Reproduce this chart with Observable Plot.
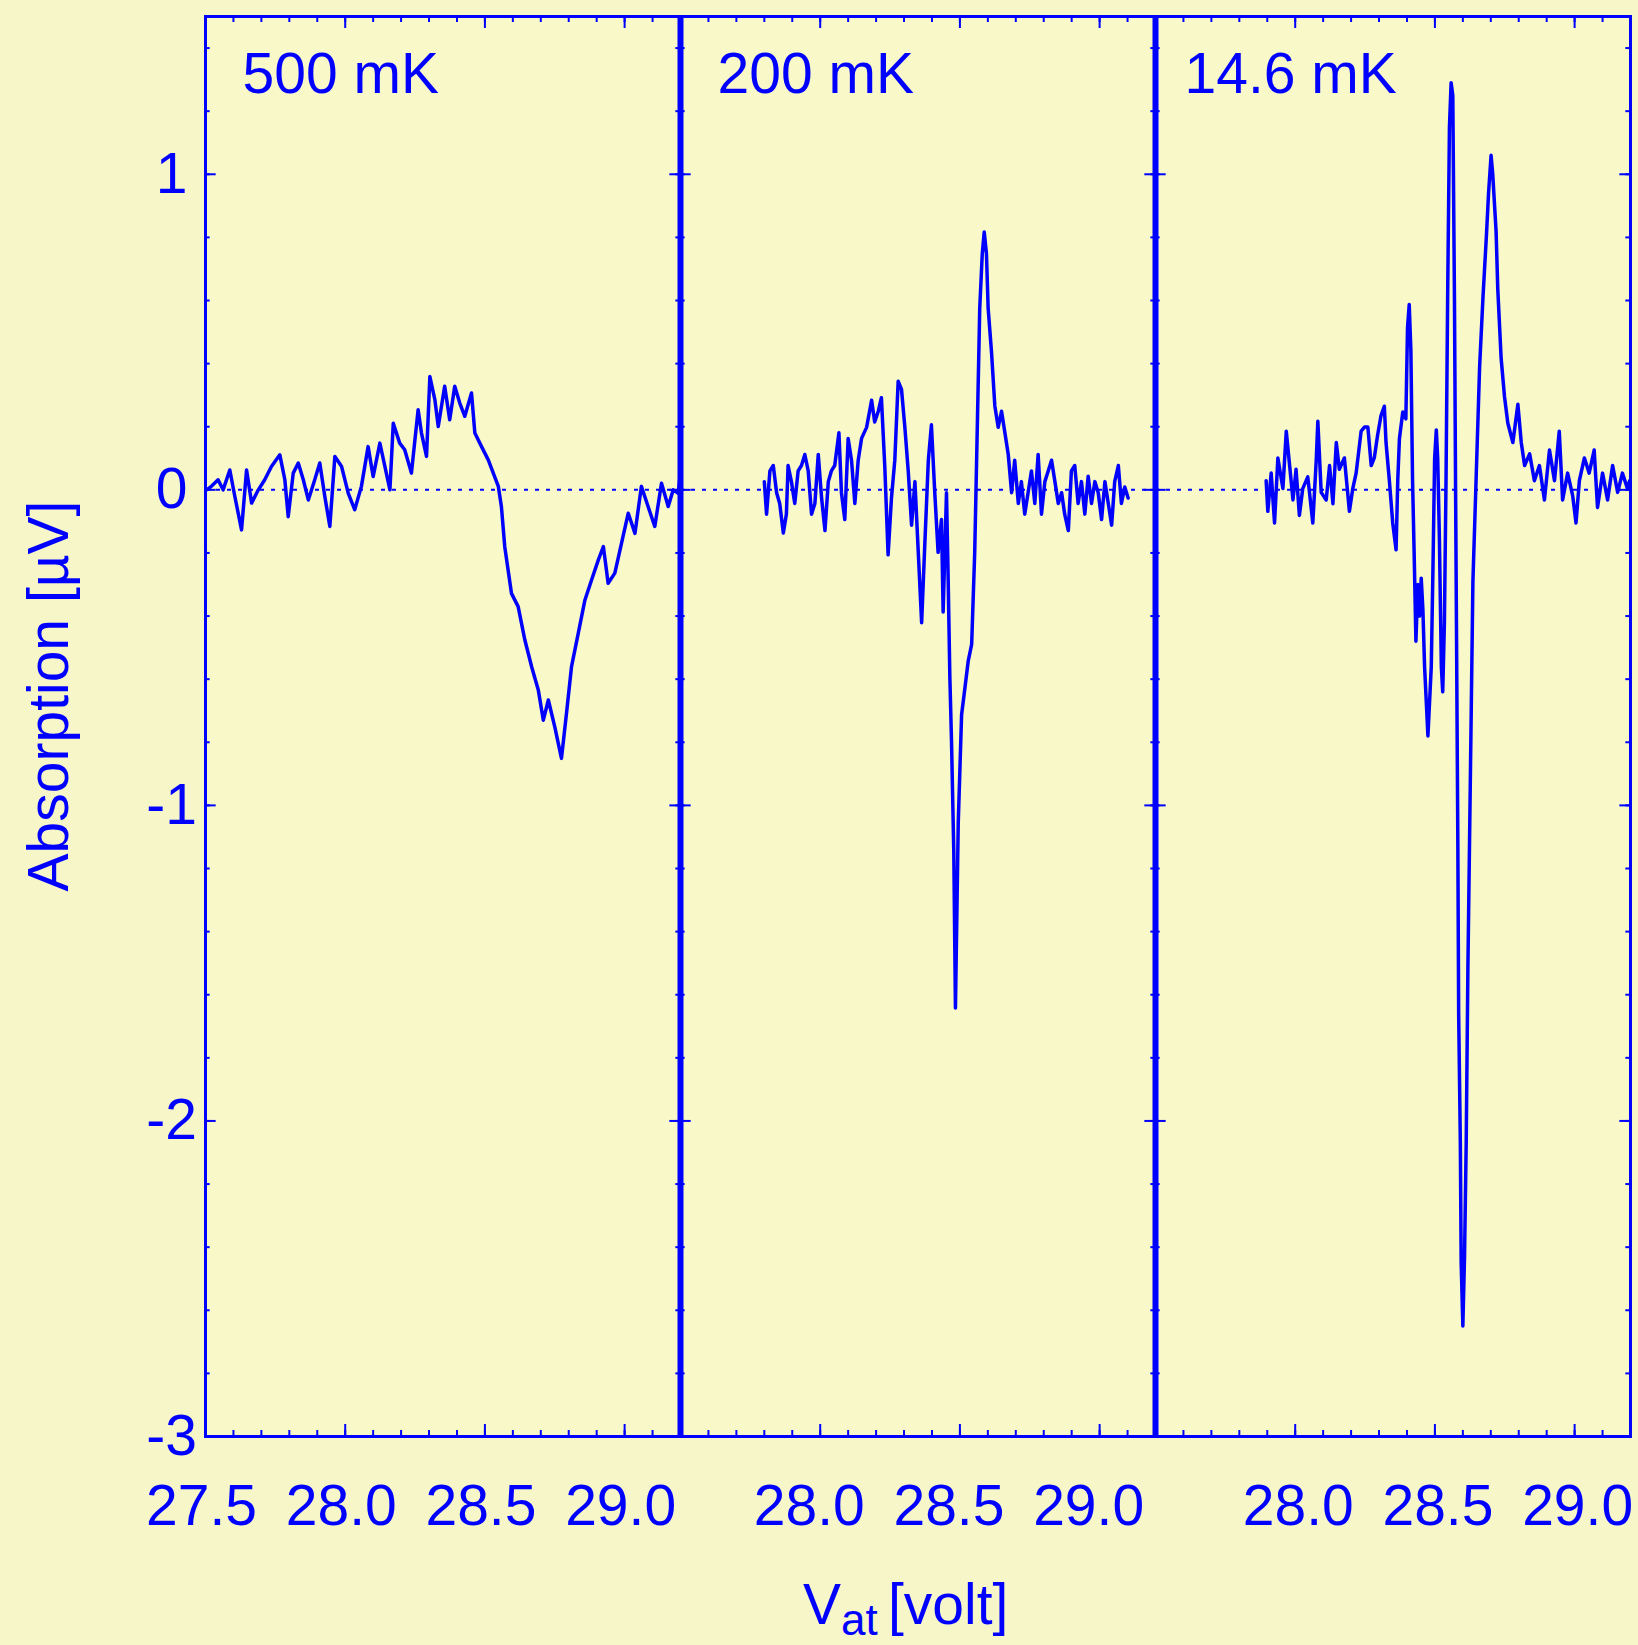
<!DOCTYPE html>
<html>
<head>
<meta charset="utf-8">
<script src="https://cdn.jsdelivr.net/npm/d3@7"></script>
<script src="https://cdn.jsdelivr.net/npm/@observablehq/plot@0.6"></script>
<style>
  html, body { margin: 0; padding: 0; background: #F7F6C8; }
</style>
</head>
<body>
<div id="chart"></div>
<script>
// ---- data ----
const panels = ["500 mK", "200 mK", "14.6 mK"];
const xDomain = [27.5, 29.2];
const yDomain = [-3, 1.5];
const xMajorTicks = [27.5, 28.0, 28.5, 29.0];
const yMajorTicks = [1, 0, -1, -2, -3];
const xTickLabels = [
  ["500 mK", 27.5, "27.5"], ["500 mK", 28.0, "28.0"], ["500 mK", 28.5, "28.5"], ["500 mK", 29.0, "29.0"],
  ["200 mK", 28.0, "28.0"], ["200 mK", 28.5, "28.5"], ["200 mK", 29.0, "29.0"],
  ["14.6 mK", 28.0, "28.0"], ["14.6 mK", 28.5, "28.5"], ["14.6 mK", 29.0, "29.0"]
];
const yTickLabels = ["1", "0", "-1", "-2", "-3"];

const trace500 = [
  [27.504,0.000],[27.521,0.011],[27.545,0.032],[27.563,0.000],[27.587,0.063],[27.605,-0.021],
  [27.629,-0.127],[27.647,0.063],[27.665,-0.042],[27.689,0.000],[27.712,0.032],[27.736,0.074],
  [27.766,0.111],[27.784,0.032],[27.796,-0.085],[27.814,0.053],[27.832,0.085],[27.850,0.032],
  [27.868,-0.032],[27.891,0.032],[27.909,0.085],[27.927,-0.021],[27.945,-0.116],[27.963,0.106],
  [27.987,0.074],[28.011,-0.011],[28.034,-0.063],[28.058,0.011],[28.082,0.137],[28.100,0.042],
  [28.124,0.148],[28.142,0.074],[28.160,0.000],[28.172,0.211],[28.195,0.148],[28.213,0.127],
  [28.237,0.053],[28.261,0.254],[28.273,0.180],[28.291,0.106],[28.303,0.359],[28.321,0.285],
  [28.333,0.201],[28.356,0.328],[28.374,0.222],[28.392,0.328],[28.410,0.275],[28.428,0.233],
  [28.452,0.307],[28.464,0.180],[28.488,0.137],[28.512,0.095],[28.530,0.053],[28.548,0.011],
  [28.559,-0.053],[28.571,-0.180],[28.595,-0.328],[28.619,-0.370],[28.643,-0.476],[28.667,-0.560],
  [28.691,-0.634],[28.709,-0.730],[28.727,-0.666],[28.750,-0.751],[28.774,-0.851],[28.792,-0.708],
  [28.810,-0.560],[28.834,-0.455],[28.858,-0.349],[28.882,-0.285],[28.906,-0.222],[28.924,-0.180],
  [28.941,-0.296],[28.965,-0.264],[28.989,-0.169],[29.013,-0.074],[29.037,-0.138],[29.060,0.011],
  [29.084,-0.053],[29.108,-0.116],[29.132,0.021],[29.156,-0.053],[29.174,0.000],[29.192,-0.011],
  [29.200,0.060]
];

const trace200 = [
  [27.800,0.026],[27.808,-0.077],[27.820,0.060],[27.832,0.077],[27.844,-0.009],[27.855,-0.043],
  [27.868,-0.137],[27.879,-0.077],[27.885,0.077],[27.897,0.026],[27.909,-0.043],[27.921,0.060],
  [27.933,0.077],[27.945,0.112],[27.957,0.060],[27.969,-0.077],[27.981,-0.043],[27.993,0.112],
  [28.005,-0.026],[28.017,-0.129],[28.029,0.026],[28.040,0.060],[28.052,0.077],[28.067,0.181],
  [28.076,-0.009],[28.088,-0.094],[28.100,0.163],[28.112,0.094],[28.124,-0.043],[28.136,0.094],
  [28.148,0.163],[28.166,0.198],[28.184,0.284],[28.195,0.215],[28.208,0.249],[28.219,0.292],
  [28.231,0.077],[28.243,-0.206],[28.255,-0.026],[28.267,0.094],[28.279,0.344],[28.291,0.318],
  [28.303,0.198],[28.315,0.060],[28.327,-0.112],[28.339,0.026],[28.351,-0.198],[28.363,-0.421],
  [28.374,-0.180],[28.387,0.094],[28.398,0.206],[28.410,-0.009],[28.422,-0.198],[28.434,-0.094],
  [28.440,-0.387],[28.452,-0.009],[28.458,-0.284],[28.464,-0.593],[28.470,-0.799],[28.478,-1.143],
  [28.484,-1.642],[28.494,-1.057],[28.506,-0.713],[28.518,-0.627],[28.530,-0.541],[28.542,-0.490],
  [28.553,-0.198],[28.563,0.232],[28.571,0.576],[28.580,0.748],[28.587,0.817],[28.595,0.748],
  [28.601,0.576],[28.613,0.438],[28.625,0.266],[28.637,0.198],[28.649,0.249],[28.661,0.181],
  [28.673,0.112],[28.685,-0.009],[28.696,0.094],[28.709,-0.043],[28.720,0.026],[28.732,-0.077],
  [28.744,-0.009],[28.756,0.060],[28.768,-0.043],[28.780,0.112],[28.792,-0.077],[28.804,0.026],
  [28.816,0.060],[28.828,0.094],[28.840,0.026],[28.852,-0.043],[28.864,-0.009],[28.875,-0.077],
  [28.888,-0.129],[28.899,0.060],[28.911,0.077],[28.923,-0.043],[28.935,0.026],[28.947,-0.077],
  [28.959,0.043],[28.971,-0.043],[28.983,0.026],[28.995,-0.009],[29.007,-0.094],[29.019,0.026],
  [29.031,-0.043],[29.043,-0.112],[29.054,0.026],[29.067,0.077],[29.078,-0.043],[29.090,0.009],
  [29.102,-0.026]
];

const trace146 = [
  [27.896,0.029],[27.902,-0.068],[27.914,0.053],[27.926,-0.105],[27.938,0.101],[27.956,0.004],
  [27.968,0.186],[27.980,0.077],[27.992,-0.032],[28.003,0.065],[28.015,-0.081],[28.027,0.004],
  [28.045,0.041],[28.063,-0.105],[28.075,0.089],[28.081,0.217],[28.093,-0.008],[28.111,-0.032],
  [28.123,0.077],[28.135,-0.044],[28.147,0.150],[28.158,0.065],[28.176,0.101],[28.194,-0.068],
  [28.206,0.004],[28.218,0.053],[28.236,0.186],[28.248,0.199],[28.260,0.199],[28.272,0.077],
  [28.283,0.101],[28.295,0.174],[28.307,0.235],[28.319,0.265],[28.325,0.150],[28.337,0.029],
  [28.349,-0.105],[28.361,-0.190],[28.367,0.029],[28.373,0.162],[28.385,0.247],[28.396,0.225],
  [28.402,0.514],[28.408,0.587],[28.414,0.441],[28.420,0.029],[28.426,-0.214],[28.432,-0.480],
  [28.439,-0.300],[28.445,-0.400],[28.451,-0.280],[28.457,-0.380],[28.463,-0.560],[28.475,-0.780],
  [28.487,-0.560],[28.493,-0.250],[28.499,0.100],[28.505,0.190],[28.510,0.100],[28.516,-0.150],
  [28.523,-0.560],[28.528,-0.640],[28.534,-0.420],[28.540,0.050],[28.546,0.650],[28.552,1.150],
  [28.558,1.290],[28.564,1.250],[28.570,0.600],[28.574,0.000],[28.578,-0.550],[28.582,-1.110],
  [28.585,-1.660],[28.591,-2.070],[28.594,-2.450],[28.600,-2.650],[28.606,-2.430],[28.612,-2.070],
  [28.618,-1.520],[28.624,-1.110],[28.630,-0.700],[28.636,-0.290],[28.648,0.050],[28.660,0.390],
  [28.672,0.610],[28.684,0.800],[28.692,0.940],[28.701,1.060],[28.707,1.000],[28.719,0.818],
  [28.725,0.636],[28.737,0.417],[28.749,0.296],[28.761,0.211],[28.779,0.150],[28.797,0.271],
  [28.809,0.150],[28.821,0.077],[28.839,0.114],[28.856,0.029],[28.874,0.077],[28.892,-0.032],
  [28.910,0.126],[28.928,0.029],[28.945,0.186],[28.957,-0.032],[28.975,0.053],[28.993,-0.018],
  [29.005,-0.105],[29.017,0.029],[29.035,0.101],[29.052,0.053],[29.070,0.126],[29.082,-0.056],
  [29.100,0.053],[29.118,-0.032],[29.136,0.077],[29.154,-0.008],[29.171,0.053],[29.189,0.004],
  [29.197,0.029]
];

// ---- build tables ----
const traces = [trace500, trace200, trace146];
const rows = traces.flatMap((t, i) => t.map(([x, y]) => ({panel: panels[i], x, y})));
const xMinorTicks = d3.range(0, 17).map(i => +(27.5 + i * 0.1).toFixed(1));
const yMinorTicks = d3.range(0, 23).map(i => +(-3 + i * 0.2).toFixed(1));
const xLabelRows = xTickLabels.map(([panel, x, label]) => ({panel, x, label}));

const W = 1638, H = 1645;
const mL = 204, mR = 8, mT = 16, mB = 209;
const PH = H - mT - mB;
const PW = (W - mL - mR) / panels.length;
const BLUE = "#0000ff";
const FONT = "'Liberation Sans', Arial, Helvetica, sans-serif";
const labelShift = [-4, -11, 3];

const chart = Plot.plot({
  width: W, height: H,
  marginLeft: mL, marginRight: mR, marginTop: mT, marginBottom: mB,
  style: {background: "#F7F6C8", fontFamily: FONT, color: BLUE},
  fx: {domain: panels, padding: 0, axis: null},
  x: {domain: xDomain, axis: null},
  y: {domain: yDomain, axis: null},
  marks: [
    Plot.frame({fill: "#F8F8C8", stroke: null}),
    Plot.ruleY([0], {stroke: BLUE, strokeWidth: 2, strokeDasharray: "4,7"}),
    Plot.line(rows, {x: "x", y: "y", fx: "panel", z: "panel", stroke: BLUE, strokeWidth: 3.5, strokeLinejoin: "round"}),
    // x ticks (inward, bottom and top)
    Plot.tickX(xMinorTicks, {x: d => d, insetTop: PH - 6, stroke: BLUE, strokeWidth: 2}),
    Plot.tickX(xMinorTicks, {x: d => d, insetBottom: PH - 6, stroke: BLUE, strokeWidth: 2}),
    Plot.tickX(xMajorTicks, {x: d => d, insetTop: PH - 12, stroke: BLUE, strokeWidth: 2}),
    Plot.tickX(xMajorTicks, {x: d => d, insetBottom: PH - 12, stroke: BLUE, strokeWidth: 2}),
    // y ticks (inward, left and right of each panel)
    Plot.tickY(yMinorTicks, {y: d => d, insetRight: PW - 5, stroke: BLUE, strokeWidth: 2}),
    Plot.tickY(yMinorTicks, {y: d => d, insetLeft: PW - 5, stroke: BLUE, strokeWidth: 2}),
    Plot.tickY(yMajorTicks, {y: d => d, insetRight: PW - 11, stroke: BLUE, strokeWidth: 2}),
    Plot.tickY(yMajorTicks, {y: d => d, insetLeft: PW - 11, stroke: BLUE, strokeWidth: 2}),
    Plot.frame({stroke: BLUE, strokeWidth: 3}),
    Plot.ruleX(panels.slice(1), {fx: d => d, x: () => xDomain[0], stroke: BLUE, strokeWidth: 6}),
    // panel labels
    Plot.text(panels.slice(0, 2), {fx: d => d, text: d => d, frameAnchor: "top-left", dx: 37, dy: 76,
      lineAnchor: "bottom", textAnchor: "start", fontSize: 57, fill: BLUE}),
    Plot.text(panels.slice(2), {fx: d => d, text: d => d, frameAnchor: "top-left", dx: 29, dy: 76,
      lineAnchor: "bottom", textAnchor: "start", fontSize: 57, fill: BLUE}),
    // x tick labels, one mark per panel
    ...panels.map((p, i) => Plot.text(xLabelRows.filter(d => d.panel === p), {
      fx: "panel", x: "x", text: "label", frameAnchor: "bottom", dy: 88, dx: labelShift[i],
      lineAnchor: "bottom", fontSize: 57, fill: BLUE})),
    // y tick labels (first panel only)
    Plot.text(yTickLabels, {fx: () => panels[0], x: () => xDomain[0], y: d => +d, text: d => d,
      dx: -34, textAnchor: "middle", lineAnchor: "middle", fontSize: 57, fill: BLUE})
  ]
});

// axis titles
const svg = d3.select(chart);
const xt = svg.append("text")
  .attr("x", 803).attr("y", 1624)
  .attr("text-anchor", "start")
  .attr("fill", BLUE).attr("font-family", FONT).attr("font-size", 57);
xt.append("tspan").attr("text-anchor", "start").text("V");
xt.append("tspan").attr("text-anchor", "start").attr("font-size", 44).attr("dy", 11).text("at");
xt.append("tspan").attr("text-anchor", "start").attr("x", 888).attr("dy", -11).text("[volt]");

svg.append("text")
  .attr("transform", "translate(68,696) rotate(-90)")
  .attr("text-anchor", "middle")
  .attr("fill", BLUE).attr("font-family", FONT).attr("font-size", 57)
  .text("Absorption [µV]");

document.getElementById("chart").appendChild(chart);
</script>
</body>
</html>
